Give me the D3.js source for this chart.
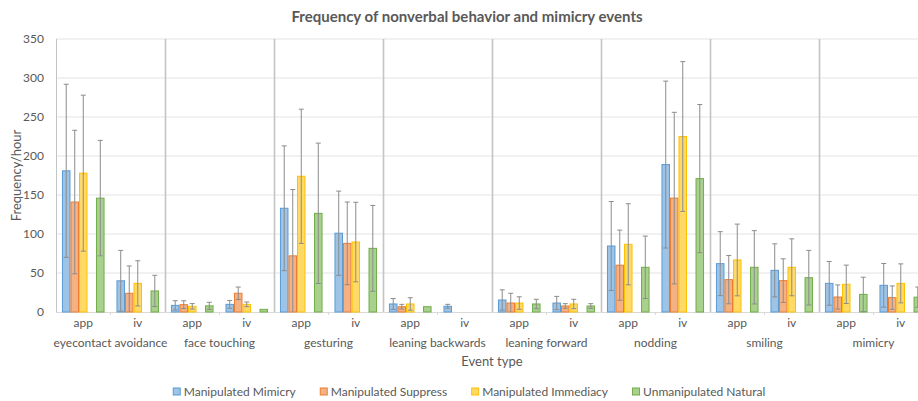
<!DOCTYPE html>
<html>
<head>
<meta charset="utf-8">
<script src="https://cdn.jsdelivr.net/npm/d3@7"></script>
<style>
  body { margin: 0; background: #fff; }
  svg { display: block; font-family: Lato, "Open Sans", sans-serif; }
</style>
</head>
<body>
<div id="chart"></div>
<script>
// chart data
const groups = ["eyecontact avoidance", "face touching", "gesturing", "leaning backwards",
                "leaning forward", "nodding", "smiling", "mimicry"];
const subs = ["app", "iv"];
const seriesNames = ["Manipulated Mimicry", "Manipulated Suppress", "Manipulated Immediacy", "Unmanipulated Natural"];

// one value per group/sub pair (app, iv, app, iv, ...)
const mimicryVals   = [181, 40, 8.5, 9.8, 133, 101, 10.3, 7.3, 15.4, 11.5, 84.6, 189, 62, 53.4, 36.7, 34.2];
const mimicryErr    = [111, 39, 6, 5, 80, 54, 7, 2.5, 13, 8.5, 57, 107, 41, 34, 28, 28];
const suppressVals  = [141, 24, 9.4, 24, 72, 88, 6.8, 0, 11.5, 7.7, 60, 146, 41.5, 40.2, 19.2, 18.4];
const suppressErr   = [92, 35, 5, 8, 85, 53, 3, 0, 12.5, 3, 45, 110, 31, 28, 15.5, 15];
const immediacyVals = [178, 36.7, 7.3, 9.8, 174, 89.7, 10.3, 0, 11.5, 10.3, 86.8, 225, 66.7, 57.3, 35.5, 36.7];
const immediacyErr  = [100, 29, 3.5, 3, 86, 51, 8, 0, 8, 6, 52, 96, 46, 36.5, 24.6, 25];
const naturalVals   = [146, 27, 7.9, 3.4, 126.5, 81.6, 6.8, 0, 10.3, 7.7, 57.3, 171, 57.3, 44, 22.6, 19];
const naturalErr    = [74, 20, 4.5, 0, 90, 55, 0, 0, 6, 3, 40, 95, 47, 35, 22, 13];
const yTicks = [0, 50, 100, 150, 200, 250, 300, 350];

const fills   = ["#9dc3e6", "#f4b183", "#ffd966", "#a9d18e"];
const strokes = ["#5b9bd5", "#ed7d31", "#ffc000", "#70ad47"];

const W = 918, H = 401;
const margin = { top: 39, left: 56 };
const plotW = 872, plotH = 273;   // plot runs a bit past the right edge of the picture

const allVals = [mimicryVals, suppressVals, immediacyVals, naturalVals];
const allErr  = [mimicryErr, suppressErr, immediacyErr, naturalErr];

// flat table of categories
const cats = [];
groups.forEach((g, gi) => subs.forEach(s => cats.push({ key: g + "|" + s, group: g, sub: s })));

const svg = d3.select("#chart").append("svg")
    .attr("width", W)
    .attr("height", H);

const g = svg.append("g").attr("transform", `translate(${margin.left},${margin.top})`);

const x0 = d3.scaleBand().domain(cats.map(d => d.key)).range([0, plotW]);
const xGroup = d3.scaleBand().domain(groups).range([0, plotW]);
// 5 slots, the 4th stays empty like in the source chart
const slots = [0, 1, 2, "gap", 3];
const x1 = d3.scaleBand().domain(slots).range([0, x0.bandwidth()]).paddingOuter(0.7);
const y = d3.scaleLinear().domain([0, 350]).range([plotH, 0]);

// horizontal gridlines
g.append("g")
    .selectAll("line")
    .data(yTicks.slice(1))
    .enter()
    .append("line")
    .attr("x1", 0).attr("x2", plotW)
    .attr("y1", d => y(d)).attr("y2", d => y(d))
    .attr("stroke", "#e3e3e3")
    .attr("stroke-width", 1);

// y axis labels
const yAxis = g.append("g")
    .call(d3.axisLeft(y).tickValues(yTicks).tickSize(0).tickPadding(12));
yAxis.select(".domain").remove();
yAxis.selectAll("text")
    .attr("fill", "#595959")
    .style("font-size", "12px")
    .style("font-family", "Lato, sans-serif");

// group separators + left axis line
g.append("g")
    .selectAll("line")
    .data(groups)
    .enter()
    .append("line")
    .attr("x1", d => Math.round(xGroup(d)) + 0.5)
    .attr("x2", d => Math.round(xGroup(d)) + 0.5)
    .attr("y1", 0).attr("y2", plotH)
    .attr("stroke", "#c4c4c4")
    .attr("stroke-width", (d, i) => i === 0 ? 1 : 1.6);

// baseline
g.append("line")
    .attr("x1", 0).attr("x2", plotW)
    .attr("y1", plotH + 0.5).attr("y2", plotH + 0.5)
    .attr("stroke", "#d9d9d9");

// little ticks between app / iv
g.append("g")
    .selectAll("line")
    .data(groups)
    .enter()
    .append("line")
    .attr("x1", d => xGroup(d) + xGroup.bandwidth() / 2)
    .attr("x2", d => xGroup(d) + xGroup.bandwidth() / 2)
    .attr("y1", plotH).attr("y2", plotH + 3)
    .attr("stroke", "#d9d9d9");

// bars
const barData = [];
cats.forEach((c, ci) => {
    seriesNames.forEach((s, si) => {
        if (allVals[si][ci] > 0)
            barData.push({ cat: c.key, si: si, v: allVals[si][ci], e: allErr[si][ci] });
    });
});

g.append("g")
    .selectAll("rect")
    .data(barData)
    .enter()
    .append("rect")
    .attr("x", d => x0(d.cat) + x1(d.si) + 0.5)
    .attr("y", d => y(d.v))
    .attr("width", x1.bandwidth() - 1)
    .attr("height", d => y(0) - y(d.v))
    .attr("fill", d => fills[d.si])
    .attr("stroke", d => strokes[d.si])
    .attr("stroke-width", 1);

// error bars
const errG = g.append("g")
    .selectAll("g")
    .data(barData.filter(d => d.e > 0))
    .enter()
    .append("g")
    .attr("stroke", "#8c8c8c")
    .attr("stroke-width", 1);

const cx = d => x0(d.cat) + x1(d.si) + x1.bandwidth() / 2;
errG.append("line")
    .attr("x1", cx).attr("x2", cx)
    .attr("y1", d => y(Math.max(0, d.v - d.e)))
    .attr("y2", d => y(d.v + d.e));
errG.append("line")
    .attr("x1", d => cx(d) - 2.5).attr("x2", d => cx(d) + 2.5)
    .attr("y1", d => y(d.v + d.e)).attr("y2", d => y(d.v + d.e));
errG.filter(d => d.v - d.e > 0)
    .append("line")
    .attr("x1", d => cx(d) - 2.5).attr("x2", d => cx(d) + 2.5)
    .attr("y1", d => y(d.v - d.e)).attr("y2", d => y(d.v - d.e));

// category labels
g.append("g")
    .selectAll("text")
    .data(cats)
    .enter()
    .append("text")
    .attr("x", d => x0(d.key) + x0.bandwidth() / 2)
    .attr("y", plotH + 15)
    .attr("text-anchor", "middle")
    .attr("fill", "#595959")
    .style("font-size", "12px")
    .text(d => d.sub);

g.append("g")
    .selectAll("text")
    .data(groups)
    .enter()
    .append("text")
    .attr("x", d => xGroup(d) + xGroup.bandwidth() / 2)
    .attr("y", plotH + 35)
    .attr("text-anchor", "middle")
    .attr("fill", "#595959")
    .style("font-size", "12px")
    .text(d => d);

// axis titles
g.append("text")
    .attr("x", plotW / 2)
    .attr("y", plotH + 54)
    .attr("text-anchor", "middle")
    .attr("fill", "#595959")
    .style("font-size", "13px")
    .text("Event type");

svg.append("text")
    .attr("transform", `translate(21, ${margin.top + plotH / 2}) rotate(-90)`)
    .attr("text-anchor", "middle")
    .attr("fill", "#595959")
    .style("font-size", "13px")
    .text("Frequency/hour");

// title
svg.append("text")
    .attr("x", 467)
    .attr("y", 22)
    .attr("text-anchor", "middle")
    .attr("fill", "#595959")
    .style("font-size", "15px")
    .style("font-weight", "bold")
    .text("Frequency of nonverbal behavior and mimicry events");

// legend
const legend = svg.append("g");
let lx = 0;
seriesNames.forEach((s, i) => {
    const item = legend.append("g").attr("transform", `translate(${lx},0)`);
    item.append("rect")
        .attr("x", 0.5).attr("y", -3.5)
        .attr("width", 7).attr("height", 7)
        .attr("fill", fills[i])
        .attr("stroke", strokes[i]);
    const t = item.append("text")
        .attr("x", 11)
        .attr("y", 4)
        .attr("fill", "#595959")
        .style("font-size", "12px")
        .text(s);
    lx += 11 + t.node().getComputedTextLength() + 24;
});
const legW = lx - 24;
legend.attr("transform", `translate(${469 - legW / 2},391.5)`);
</script>
</body>
</html>
